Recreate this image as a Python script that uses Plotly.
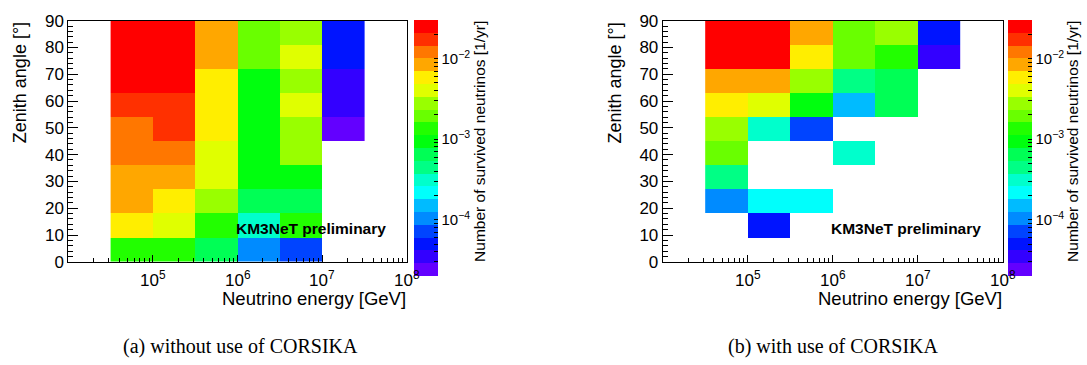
import numpy as np
import plotly.graph_objects as go

# ---------------- data ----------------
# energy bin edges (log10 GeV) and zenith-angle bin edges (deg)
log_energy_edges = [4.5, 5.0, 5.5, 6.0, 6.5, 7.0, 7.5]
zenith_edges = [0, 9, 18, 27, 36, 45, 54, 63, 72, 81, 90]

# survived neutrinos [1/yr], rows = zenith bins (bottom -> top), cols = energy bins
rate_without_corsika = [
    [1.34e-3, 1.30e-3, 6.4e-4, 1.04e-4, 7.2e-5, None],
    [5.8e-3, 4.0e-3, 1.34e-3, 3.1e-4, 1.30e-3, None],
    [8.3e-3, 5.8e-3, 2.8e-3, 6.4e-4, 6.2e-4, None],
    [8.4e-3, 8.2e-3, 4.0e-3, 9.3e-4, 9.1e-4, None],
    [1.20e-2, 1.21e-2, 4.1e-3, 9.4e-4, 2.8e-3, None],
    [1.20e-2, 1.73e-2, 5.8e-3, 9.3e-4, 2.7e-3, 2.4e-5],
    [1.75e-2, 1.72e-2, 5.9e-3, 9.2e-4, 4.0e-3, 3.5e-5],
    [2.5e-2, 2.6e-2, 5.7e-3, 9.5e-4, 2.8e-3, 3.4e-5],
    [2.7e-2, 2.6e-2, 8.3e-3, 1.93e-3, 4.1e-3, 5.0e-5],
    [2.8e-2, 2.7e-2, 8.4e-3, 1.90e-3, 2.8e-3, 5.1e-5],
]
rate_with_corsika = [
    [None, None, None, None, None, None],
    [None, 5.0e-5, None, None, None, None],
    [1.05e-4, 2.2e-4, 2.1e-4, None, None, None],
    [4.5e-4, None, None, None, None, None],
    [1.95e-3, None, None, 3.1e-4, None, None],
    [2.8e-3, 3.0e-4, 7.3e-5, None, None, None],
    [5.8e-3, 4.0e-3, 9.2e-4, 1.5e-4, 6.5e-4, None],
    [8.3e-3, 8.4e-3, 2.7e-3, 4.4e-4, 6.3e-4, None],
    [2.7e-2, 2.6e-2, 5.9e-3, 1.9e-3, 1.35e-3, 3.5e-5],
    [2.8e-2, 2.7e-2, 8.3e-3, 1.95e-3, 2.9e-3, 5.0e-5],
]
z_min, z_max = 2.0e-5, 3.0e-2

x_tick_vals = [5, 6, 7, 8]
x_tick_text = ["10<sup>5</sup>", "10<sup>6</sup>", "10<sup>7</sup>", "10<sup>8</sup>"]
cb_major = [-4, -3, -2]
cb_major_text = ["10<sup>\u22124</sup>", "10<sup>\u22123</sup>", "10<sup>\u22122</sup>"]
captions = ["(a) without use of CORSIKA", "(b) with use of CORSIKA"]

# ---------------- style ----------------
# ROOT "pretty" palette (hue 280 -> 0) sampled at 20 contour levels
def hls_rgb(h):
    h = h % 360
    if h < 60:
        r, g, b = 1, h / 60, 0
    elif h < 120:
        r, g, b = (120 - h) / 60, 1, 0
    elif h < 180:
        r, g, b = 0, 1, (h - 120) / 60
    elif h < 240:
        r, g, b = 0, (240 - h) / 60, 1
    elif h < 300:
        r, g, b = (h - 240) / 60, 0, 1
    else:
        r, g, b = 1, 0, (360 - h) / 60
    return "rgb(%d,%d,%d)" % (round(r * 255), round(g * 255), round(b * 255))

ncont = 20
colors = []
for k in range(ncont):
    j = int((k + 0.99) * 50 / ncont)
    hue = 280 - (j + 1) * 5.6
    colors.append(hls_rgb(max(hue, 0)))
colorscale = []
for k, c in enumerate(colors):
    colorscale.append([k / ncont, c])
    colorscale.append([(k + 1) / ncont, c])

def to_log(rows):
    return [[None if v is None else float(np.log10(v)) for v in r] for r in rows]

lo, hi = np.log10(z_min), np.log10(z_max)
cb_minor = []
for n in range(-5, -1):
    for m in range(2, 10):
        v = np.log10(m * 10.0 ** n)
        if lo < v < hi:
            cb_minor.append(float(v))
cb_vals = cb_major + cb_minor
cb_text = cb_major_text + [" "] * len(cb_minor)

x_minor = [float(np.log10(m * 10.0 ** n)) for n in range(4, 8) for m in range(2, 10)]

W, H = 1087, 365
FONT = "Liberation Sans, Arial, sans-serif"

panels = [
    dict(rates=rate_without_corsika, x0=68.3, x1=406.7, cbx=414, cbtitle=480, cap=240),
    dict(rates=rate_with_corsika, x0=662.7, x1=1002.7, cbx=1008.3, cbtitle=1073, cap=833),
]
ytop, ybot = 12.3, 266.7

fig = go.Figure()
annotations = []
for i, p in enumerate(panels):
    xa = "x" if i == 0 else "x2"
    ya = "y" if i == 0 else "y2"
    fig.add_trace(go.Heatmap(
        x=log_energy_edges, y=zenith_edges, z=to_log(p["rates"]),
        xaxis=xa, yaxis=ya,
        colorscale=colorscale, zmin=lo, zmax=hi, hoverongaps=False,
        colorbar=dict(
            x=p["cbx"] / W, xanchor="left", xpad=0,
            y=1 - 11.7 / H, yanchor="top", ypad=0,
            len=256, lenmode="pixels", thickness=24, thicknessmode="pixels",
            outlinewidth=0, bgcolor="rgba(0,0,0,0)", borderwidth=0,
            ticks="inside", ticklen=4, tickcolor="black",
            tickmode="array", tickvals=cb_vals, ticktext=cb_text,
            tickfont=dict(family=FONT, size=15, color="black"),
        ),
    ))
    xkey = "xaxis" if i == 0 else "xaxis2"
    ykey = "yaxis" if i == 0 else "yaxis2"
    fig.layout[xkey] = dict(
        domain=[p["x0"] / W, p["x1"] / W], range=[4, 8], anchor=ya,
        tickmode="array", tickvals=x_tick_vals, showticklabels=False,
        ticks="inside", ticklen=7, tickcolor="black", tickwidth=1,
        showline=True, linecolor="black", linewidth=1, mirror=True,
        showgrid=False, zeroline=False,
        minor=dict(tickmode="array", tickvals=x_minor, ticks="inside",
                   ticklen=3.5, tickcolor="black", showgrid=False),
    )
    fig.layout[ykey] = dict(
        domain=[1 - ybot / H, 1 - ytop / H], range=[0, 90], anchor=xa,
        tickmode="linear", tick0=0, dtick=10,
        ticks="inside", ticklen=10, tickcolor="black", tickwidth=1,
        showline=True, linecolor="black", linewidth=1, mirror=True,
        showgrid=False, zeroline=False, ticklabelstandoff=0,
        tickfont=dict(family=FONT, size=17, color="black"),
        minor=dict(dtick=2, ticks="inside", ticklen=5, tickcolor="black", showgrid=False),
    )
    for tv, tt in zip(x_tick_vals, x_tick_text):
        annotations.append(dict(
            text=tt, xref=xa, yref="paper", x=tv, y=1 - 298 / H,
            xanchor="center", yanchor="bottom", showarrow=False, borderpad=0,
            font=dict(family=FONT, size=17, color="black")))
    annotations += [
        dict(text="<b>KM3NeT preliminary</b>", xref=xa, yref=ya, x=5.96, y=12.3,
             xanchor="left", yanchor="middle", showarrow=False,
             font=dict(family=FONT, size=15.5, color="black")),
        dict(text="Zenith angle [\u00b0]", xref="paper", yref="paper",
             x=(p["x0"] - 48) / W, y=1 - 12 / H, xanchor="center", yanchor="top",
             textangle=-90, showarrow=False, font=dict(family=FONT, size=18, color="black")),
        dict(text="Neutrino energy [GeV]", xref="paper", yref="paper",
             x=p["x1"] / W, y=1 - 305 / H, xanchor="right", yanchor="middle",
             showarrow=False, borderpad=0, font=dict(family=FONT, size=18.5, color="black")),
        dict(text="Number of survived neutrinos [1/yr]", xref="paper", yref="paper",
             x=p["cbtitle"] / W, y=1 - 11 / H, xanchor="center", yanchor="top",
             textangle=-90, showarrow=False, font=dict(family=FONT, size=15.5, color="black")),
        dict(text=captions[i], xref="paper", yref="paper",
             x=p["cap"] / W, y=1 - 356 / H, xanchor="center", yanchor="middle",
             showarrow=False, font=dict(family="Liberation Serif, Times New Roman, serif",
                                        size=20, color="black")),
    ]

fig.update_layout(
    width=W, height=H, margin=dict(l=0, r=0, t=0, b=0),
    paper_bgcolor="white", plot_bgcolor="white",
    showlegend=False, annotations=annotations,
)
fig.write_html("out.html")
